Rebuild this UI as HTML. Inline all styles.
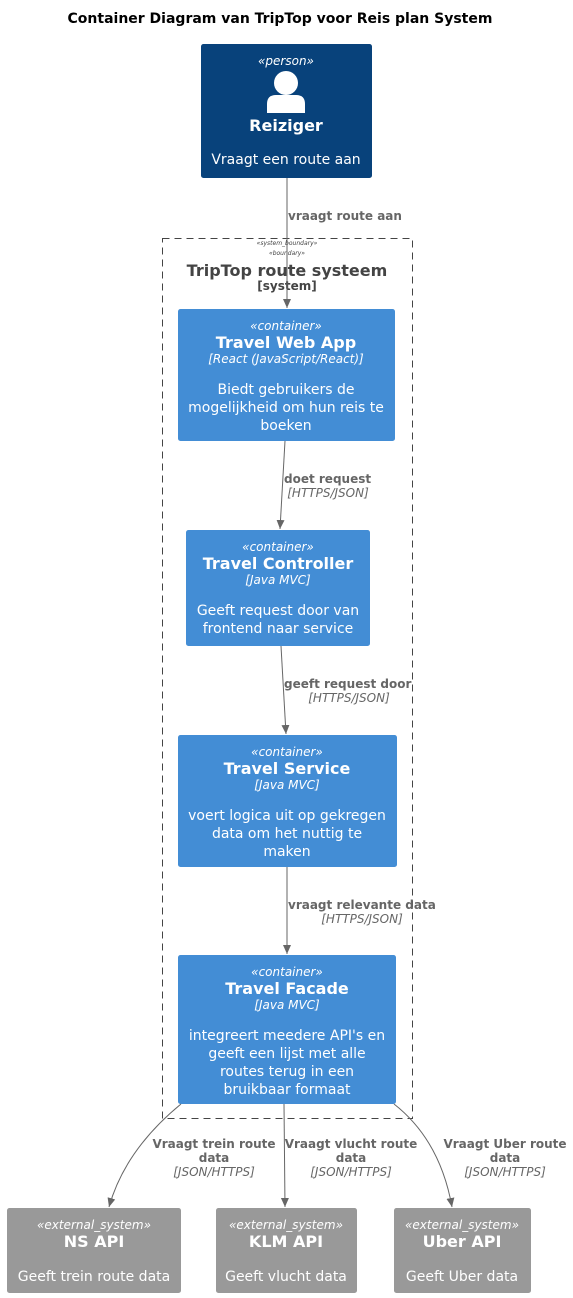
<!DOCTYPE html>
<html><head><meta charset="utf-8"><style>
html,body{margin:0;padding:0;background:#fff}
svg{display:block;font-family:"DejaVu Sans","Liberation Sans",sans-serif}
.w{fill:#fff;text-anchor:middle}
.st{font-size:12px;font-style:italic}
.nm{font-size:16px;font-weight:bold}
.ds{font-size:14px}
.el{fill:#666;font-size:12px;font-weight:bold}
.et{fill:#666;font-size:12px;font-style:italic}
</style></head><body>
<svg width="573" height="1298" viewBox="0 0 573 1298" xmlns="http://www.w3.org/2000/svg">
<defs><marker id="a" markerWidth="10" markerHeight="10" refX="9" refY="5" orient="auto" markerUnits="userSpaceOnUse"><path d="M0,1 L9,5 L0,9 Z" fill="#666"/></marker></defs>
<text x="280" y="23" text-anchor="middle" font-size="14" font-weight="bold">Container Diagram van TripTop voor Reis plan System</text>

<rect x="201" y="44" width="171" height="134" rx="2.5" fill="#08427B"/>
<text class="w st" x="286" y="65">«person»</text>
<circle cx="286" cy="83" r="12" fill="#fff"/>
<path d="M267,113 L267,104 Q267,95 276,95 L296,95 Q305,95 305,104 L305,113 Z" fill="#fff"/>
<text class="w nm" x="286" y="131">Reiziger</text>
<text class="w ds" x="286" y="164">Vraagt een route aan</text>

<rect x="162.5" y="238.5" width="250" height="880" fill="none" stroke="#444" stroke-dasharray="7,5"/>
<text x="287" y="245" text-anchor="middle" font-size="6" font-style="italic" fill="#444">«system_boundary»</text>
<text x="287" y="255" text-anchor="middle" font-size="6" font-style="italic" fill="#444">«boundary»</text>
<text x="287" y="276" text-anchor="middle" font-size="16" font-weight="bold" fill="#444">TripTop route systeem</text>
<text x="287" y="290" text-anchor="middle" font-size="12" font-weight="bold" fill="#444">[system]</text>

<rect x="178" y="309" width="217" height="132" rx="2.5" fill="#438DD5"/>
<text class="w st" x="286" y="330">«container»</text>
<text class="w nm" x="286" y="348">Travel Web App</text>
<text class="w st" x="286" y="363">[React (JavaScript/React)]</text>
<text class="w ds" x="286" y="394">Biedt gebruikers de</text>
<text class="w ds" x="286" y="412">mogelijkheid om hun reis te</text>
<text class="w ds" x="286" y="430">boeken</text>

<rect x="186" y="530" width="184" height="116" rx="2.5" fill="#438DD5"/>
<text class="w st" x="278" y="551">«container»</text>
<text class="w nm" x="278" y="569">Travel Controller</text>
<text class="w st" x="278" y="584">[Java MVC]</text>
<text class="w ds" x="278" y="615">Geeft request door van</text>
<text class="w ds" x="278" y="633">frontend naar service</text>

<rect x="178" y="735" width="219" height="132" rx="2.5" fill="#438DD5"/>
<text class="w st" x="287" y="756">«container»</text>
<text class="w nm" x="287" y="774">Travel Service</text>
<text class="w st" x="287" y="789">[Java MVC]</text>
<text class="w ds" x="287" y="820">voert logica uit op gekregen</text>
<text class="w ds" x="287" y="838">data om het nuttig te</text>
<text class="w ds" x="287" y="856">maken</text>

<rect x="178" y="955" width="218" height="149" rx="2.5" fill="#438DD5"/>
<text class="w st" x="287" y="976">«container»</text>
<text class="w nm" x="287" y="994">Travel Facade</text>
<text class="w st" x="287" y="1009">[Java MVC]</text>
<text class="w ds" x="287" y="1040">integreert meedere API's en</text>
<text class="w ds" x="287" y="1058">geeft een lijst met alle</text>
<text class="w ds" x="287" y="1076">routes terug in een</text>
<text class="w ds" x="287" y="1094">bruikbaar formaat</text>

<rect x="7" y="1208" width="174" height="85" rx="2.5" fill="#999"/>
<text class="w st" x="94" y="1229">«external_system»</text>
<text class="w nm" x="94" y="1247">NS API</text>
<text class="w ds" x="94" y="1281">Geeft trein route data</text>
<rect x="216" y="1208" width="141" height="85" rx="2.5" fill="#999"/>
<text class="w st" x="286" y="1229">«external_system»</text>
<text class="w nm" x="286" y="1247">KLM API</text>
<text class="w ds" x="286" y="1281">Geeft vlucht data</text>
<rect x="394" y="1208" width="137" height="85" rx="2.5" fill="#999"/>
<text class="w st" x="462" y="1229">«external_system»</text>
<text class="w nm" x="462" y="1247">Uber API</text>
<text class="w ds" x="462" y="1281">Geeft Uber data</text>

<g stroke="#666" fill="none" stroke-width="1">
<line x1="287" y1="178" x2="287" y2="308" marker-end="url(#a)"/>
<line x1="285" y1="441" x2="280" y2="529" marker-end="url(#a)"/>
<line x1="281" y1="646" x2="286" y2="734" marker-end="url(#a)"/>
<line x1="287" y1="867" x2="287" y2="954" marker-end="url(#a)"/>
<path d="M181,1104 Q125,1150 109,1207" marker-end="url(#a)"/>
<path d="M284,1104 L285,1207" marker-end="url(#a)"/>
<path d="M394,1104 Q440,1140 452,1207" marker-end="url(#a)"/>
</g>
<text class="el" x="288" y="220">vraagt route aan</text>
<text class="el" x="284" y="483">doet request</text>
<text class="et" x="328" y="497" text-anchor="middle">[HTTPS/JSON]</text>
<text class="el" x="284" y="688">geeft request door</text>
<text class="et" x="349" y="702" text-anchor="middle">[HTTPS/JSON]</text>
<text class="el" x="288" y="909">vraagt relevante data</text>
<text class="et" x="362" y="923" text-anchor="middle">[HTTPS/JSON]</text>
<g text-anchor="middle">
<text class="el" x="214" y="1148">Vraagt trein route</text>
<text class="el" x="214" y="1162">data</text>
<text class="et" x="214" y="1176">[JSON/HTTPS]</text>
<text class="el" x="351" y="1148">Vraagt vlucht route</text>
<text class="el" x="351" y="1162">data</text>
<text class="et" x="351" y="1176">[JSON/HTTPS]</text>
<text class="el" x="505" y="1148">Vraagt Uber route</text>
<text class="el" x="505" y="1162">data</text>
<text class="et" x="505" y="1176">[JSON/HTTPS]</text>
</g>
</svg>
</body></html>
